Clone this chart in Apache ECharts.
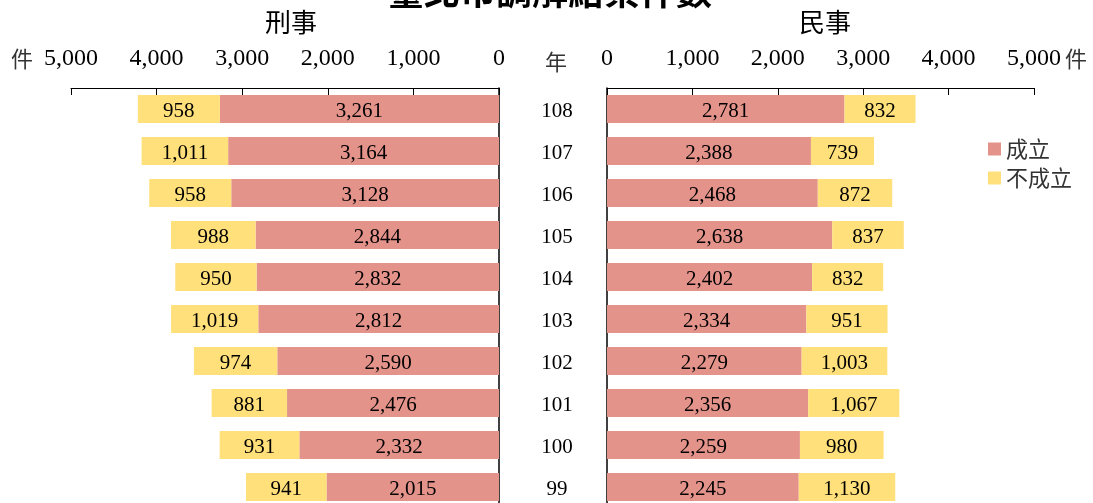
<!DOCTYPE html>
<html>
<head>
<meta charset="utf-8">
<script src="https://cdn.jsdelivr.net/npm/echarts@6/dist/echarts.min.js"></script>
<style>
  html, body { margin: 0; padding: 0; background: #fff; overflow: hidden; }
  /* a bit taller than the window: the last row runs past the bottom edge */
  #main { width: 1093px; height: 510px; }
</style>
</head>
<body>
<div id="main"></div>
<script>
// 年度 (由上而下)
var years = ['108', '107', '106', '105', '104', '103', '102', '101', '100', '99'];
// 刑事
var criminalOk = [3261, 3164, 3128, 2844, 2832, 2812, 2590, 2476, 2332, 2015];
var criminalFail = [958, 1011, 958, 988, 950, 1019, 974, 881, 931, 941];
// 民事
var civilOk = [2781, 2388, 2468, 2638, 2402, 2334, 2279, 2356, 2259, 2245];
var civilFail = [832, 739, 872, 837, 832, 951, 1003, 1067, 980, 1130];
var ticks = [0, 1000, 2000, 3000, 4000, 5000];

var RED = '#E4938B';
var YELLOW = '#FFE07A';
var SERIF = '"Liberation Serif", "Times New Roman", serif';
var CJK = '"Noto Sans CJK TC", sans-serif';

function fmt(v) {
  return Number(v).toLocaleString('en-US');
}

var myChart = echarts.init(document.getElementById('main'));

var xAxisBase = {
  type: 'value',
  min: ticks[0],
  max: ticks[ticks.length - 1],
  interval: ticks[1] - ticks[0],
  position: 'top',
  axisLine: { show: true, lineStyle: { color: '#000', width: 1 } },
  axisTick: { show: true, inside: true, length: 7, lineStyle: { color: '#000' } },
  axisLabel: { fontFamily: SERIF, fontSize: 24, color: '#000', margin: 17, formatter: fmt },
  splitLine: { show: false }
};

var barLabel = {
  show: true,
  position: 'inside',
  offset: [0, 2],
  color: '#000',
  fontFamily: SERIF,
  fontSize: 21,
  formatter: function (p) { return fmt(p.value); }
};

var option = {
  animation: false,
  backgroundColor: '#fff',
  legend: {
    data: ['成立', '不成立'],
    orient: 'vertical',
    left: 983,
    top: 133,
    itemWidth: 13,
    itemHeight: 13,
    itemGap: 7,
    icon: 'rect',
    textStyle: { fontFamily: CJK, fontSize: 22, color: '#333' }
  },
  grid: [
    { left: 71, right: 594, top: 88, height: 420 },
    { left: 607, right: 59, top: 88, height: 420 }
  ],
  xAxis: [
    Object.assign({}, xAxisBase, { gridIndex: 0, inverse: true }),
    Object.assign({}, xAxisBase, { gridIndex: 1 })
  ],
  yAxis: [
    {
      type: 'category', gridIndex: 0, data: years, inverse: true, position: 'right',
      axisLine: { show: true, lineStyle: { color: '#000', width: 1.5 } },
      axisTick: { show: false },
      axisLabel: { show: false }
    },
    {
      type: 'category', gridIndex: 1, data: years, inverse: true, position: 'left',
      axisLine: { show: true, lineStyle: { color: '#000', width: 1.5 } },
      axisTick: { show: false },
      axisLabel: {
        margin: 50, align: 'center',
        formatter: function (v) { return '{y|' + v + '}'; },
        rich: { y: { fontFamily: SERIF, fontSize: 21, color: '#000', padding: [5, 0, 0, 0] } }
      }
    }
  ],
  series: [
    { name: '成立', type: 'bar', stack: 'L', xAxisIndex: 0, yAxisIndex: 0, barWidth: 28,
      itemStyle: { color: RED }, label: barLabel, data: criminalOk },
    { name: '不成立', type: 'bar', stack: 'L', xAxisIndex: 0, yAxisIndex: 0, barWidth: 28,
      itemStyle: { color: YELLOW }, label: barLabel, data: criminalFail },
    { name: '成立', type: 'bar', stack: 'R', xAxisIndex: 1, yAxisIndex: 1, barWidth: 28,
      itemStyle: { color: RED }, label: barLabel, data: civilOk },
    { name: '不成立', type: 'bar', stack: 'R', xAxisIndex: 1, yAxisIndex: 1, barWidth: 28,
      itemStyle: { color: YELLOW }, label: barLabel, data: civilFail }
  ],
  graphic: [
    { type: 'text', x: 550, y: -27,
      style: { text: '臺北市調解結案件數', font: 'bold 36px ' + CJK, fill: '#000', textAlign: 'center' } },
    { type: 'text', x: 291, y: 22,
      style: { text: '刑事', font: '26px ' + CJK, fill: '#000', textAlign: 'center', textVerticalAlign: 'middle' } },
    { type: 'text', x: 825, y: 22,
      style: { text: '民事', font: '26px ' + CJK, fill: '#000', textAlign: 'center', textVerticalAlign: 'middle' } },
    { type: 'text', x: 22, y: 59,
      style: { text: '件', font: '22px ' + CJK, fill: '#333', textAlign: 'center', textVerticalAlign: 'middle' } },
    { type: 'text', x: 556, y: 62,
      style: { text: '年', font: '22px ' + CJK, fill: '#333', textAlign: 'center', textVerticalAlign: 'middle' } },
    { type: 'text', x: 1076, y: 59,
      style: { text: '件', font: '22px ' + CJK, fill: '#333', textAlign: 'center', textVerticalAlign: 'middle' } }
  ]
};

myChart.setOption(option);
</script>
</body>
</html>
